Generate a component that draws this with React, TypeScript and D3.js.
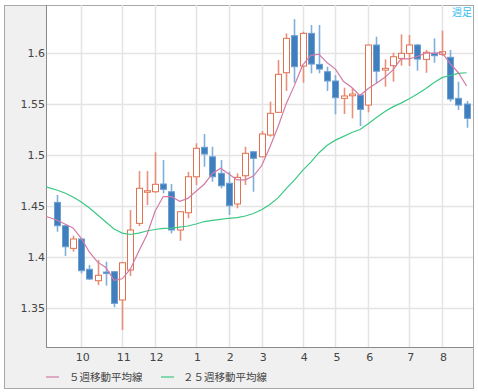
import React from 'react';
import * as d3 from 'd3';

// weekly candles (index 0..50)
const opens = [1.4531,1.4302,1.4080,1.4172,1.3875,1.3763,1.3848,1.3851,1.3574,1.3868,1.4325,1.4637,1.4635,1.4711,1.4635,1.4260,1.4429,1.4782,1.5071,1.4978,1.4816,1.4718,1.4515,1.4792,1.5027,1.4978,1.5191,1.5414,1.5802,1.6165,1.5868,1.6188,1.5884,1.5812,1.5721,1.5551,1.5576,1.5583,1.5485,1.6074,1.5828,1.5871,1.5943,1.5992,1.6074,1.5933,1.5992,1.5982,1.5953,1.5551,1.5495];
const highs = [1.4603,1.4309,1.4204,1.4180,1.3917,1.3966,1.3949,1.3858,1.3946,1.4456,1.4838,1.4838,1.5022,1.4946,1.4711,1.4446,1.4831,1.5110,1.5201,1.5076,1.4946,1.4831,1.4816,1.5076,1.5034,1.5230,1.5518,1.5926,1.6188,1.6328,1.6204,1.6270,1.6270,1.5861,1.5779,1.5655,1.5649,1.5590,1.6080,1.6155,1.5933,1.5998,1.6178,1.6172,1.6083,1.6025,1.6139,1.6214,1.6025,1.5714,1.5525];
const lows = [1.4243,1.4005,1.4047,1.3835,1.3770,1.3720,1.3714,1.3502,1.3279,1.3809,1.4299,1.4505,1.4625,1.4620,1.4227,1.4155,1.4375,1.4701,1.4880,1.4733,1.4669,1.4407,1.4473,1.4701,1.4635,1.4973,1.5175,1.5407,1.5623,1.5704,1.5704,1.5796,1.5796,1.5623,1.5394,1.5397,1.5355,1.5279,1.5414,1.5698,1.5665,1.5714,1.5871,1.5868,1.5822,1.5802,1.5900,1.5966,1.5518,1.5436,1.5263];
const closes = [1.4302,1.4096,1.4172,1.3861,1.3779,1.3816,1.3835,1.3541,1.3939,1.4260,1.4669,1.4645,1.4708,1.4659,1.4260,1.4439,1.4782,1.5061,1.5005,1.4782,1.4694,1.4498,1.4776,1.5012,1.4963,1.5201,1.5404,1.5786,1.6139,1.5861,1.6188,1.5887,1.5838,1.5721,1.5557,1.5574,1.5593,1.5443,1.6074,1.5817,1.5845,1.5959,1.5992,1.6074,1.5936,1.6002,1.5969,1.6008,1.5544,1.5485,1.5355];

// moving averages, starting at index -2
const maStart = -2;
const ma5 = [1.4410,1.4385,1.4358,1.4319,1.4280,1.4178,1.4042,1.3945,1.3893,1.3766,1.3782,1.3878,1.4049,1.4211,1.4444,1.4588,1.4588,1.4542,1.4570,1.4640,1.4709,1.4814,1.4865,1.4808,1.4751,1.4752,1.4789,1.4890,1.5071,1.5273,1.5499,1.5678,1.5876,1.5972,1.5983,1.5899,1.5838,1.5715,1.5657,1.5578,1.5648,1.5700,1.5754,1.5828,1.5937,1.5937,1.5961,1.5993,1.5995,1.5998,1.5892,1.5802,1.5672];
const ma25 = [1.4701,1.4676,1.4652,1.4623,1.4583,1.4534,1.4475,1.4407,1.4338,1.4270,1.4230,1.4216,1.4230,1.4250,1.4265,1.4276,1.4279,1.4289,1.4299,1.4319,1.4343,1.4355,1.4365,1.4375,1.4382,1.4397,1.4422,1.4458,1.4510,1.4575,1.4666,1.4749,1.4844,1.4926,1.5018,1.5090,1.5141,1.5178,1.5216,1.5245,1.5302,1.5364,1.5420,1.5467,1.5504,1.5547,1.5593,1.5646,1.5704,1.5754,1.5775,1.5796,1.5802];

const monthLabels = ['10','11','12','1','2','3','4','5','6','7','8'];
const monthTickIndex = [3,8,12,17,21,25,30,34,38,43,47];
const yTicks = [1.35,1.4,1.45,1.5,1.55,1.6];

const legendLabels = ['５週移動平均線','２５週移動平均線'];
const periodLabel = '週足';

export default function App() {
  const W = 478, H = 392;
  const left = 46, right = 473, top = 5, bottom = 347;
  const x = d3.scaleLinear().domain([-1.3, 50.78]).range([left, right]);
  const y = d3.scaleLinear().domain([1.3113, 1.6466]).range([bottom, top]);
  const bw = 6;

  const line = d3.line<number>()
    .x((_, i) => x(i + maStart))
    .y(d => y(d));

  const pink = '#d27aa6';
  const green = '#3cc884';
  const upStroke = '#e2714f';
  const upWick = '#e8907a';
  const dnFill = '#3f7fbe';
  const dnStroke = '#6c9fd2';
  const dnWick = '#7fb0dc';

  return (
    <svg width={W} height={H} style={{ position: 'absolute', left: 0, top: 0 }}>
      <defs>
        <clipPath id="plotclip">
          <rect x={left} y={top} width={right - left} height={bottom - top} />
        </clipPath>
      </defs>
      <rect x={0} y={0} width={W} height={H} fill="#ffffff" />
      <rect x={4.5} y={5.5} width={469} height={383} fill="#f0f0f0" stroke="#a8a8a8" />
      <rect x={left} y={top + 1} width={right - left} height={bottom - top - 1} fill="#ffffff" />
      {/* grid */}
      {yTicks.map(t => (
        <line key={'gy' + t} x1={left} x2={right} y1={Math.round(y(t)) + 0.5} y2={Math.round(y(t)) + 0.5} stroke="#e4e4e4" strokeWidth={1.5} />
      ))}
      {monthTickIndex.map((t, k) => (
        <line key={'gx' + k} x1={Math.round(x(t)) + 0.5} x2={Math.round(x(t)) + 0.5} y1={top} y2={bottom} stroke="#e4e4e4" strokeWidth={1.5} />
      ))}
      {/* axes lines */}
      <line x1={left + 0.5} x2={left + 0.5} y1={top} y2={bottom} stroke="#8a8a8a" />
      <line x1={left} x2={right} y1={bottom + 0.5} y2={bottom + 0.5} stroke="#8a8a8a" />
      <line x1={right + 0.5} x2={right + 0.5} y1={top} y2={388} stroke="#a8a8a8" />
      {/* y labels */}
      {yTicks.map(t => (
        <text key={'ly' + t} x={left - 1} y={y(t) + 4} textAnchor="end" fontFamily="DejaVu Sans" fontSize={11} fill="#444">{d3.format('')(t)}</text>
      ))}
      {/* x labels */}
      {monthTickIndex.map((t, k) => (
        <text key={'lx' + k} x={x(t) + 1.5} y={361} textAnchor="middle" fontFamily="DejaVu Sans" fontSize={11} fill="#444">{monthLabels[k]}</text>
      ))}
      <g clipPath="url(#plotclip)">
        {/* wicks */}
        {closes.map((c, i) => {
          const up = c >= opens[i];
          return (
            <line key={'w' + i} x1={Math.round(x(i)) + 0.5} x2={Math.round(x(i)) + 0.5} y1={y(highs[i])} y2={y(lows[i])} stroke={up ? upWick : dnWick} strokeWidth={1.6} />
          );
        })}
        {/* bodies */}
        {closes.map((c, i) => {
          const up = c >= opens[i];
          const yt = y(Math.max(c, opens[i]));
          const yb = y(Math.min(c, opens[i]));
          const h = Math.max(1.5, yb - yt);
          return (
            <rect key={'b' + i} x={Math.round(x(i)) - bw / 2 + 0.5} y={yt} width={bw} height={h}
              fill={up ? '#ffffff' : dnFill} stroke={up ? upStroke : dnStroke} strokeWidth={1} />
          );
        })}
        <path d={line(ma25) || ''} fill="none" stroke={green} strokeWidth={1.2} />
        <path d={line(ma5) || ''} fill="none" stroke={pink} strokeWidth={1.2} />
      </g>
      <text x={472} y={16} textAnchor="end" fontFamily="Noto Sans CJK JP" fontSize={10} fill="#33bbee">{periodLabel}</text>
      {/* legend */}
      <line x1={46} x2={59} y1={377} y2={377} stroke={pink} strokeWidth={1.2} />
      <text x={69} y={381} fontFamily="Noto Sans CJK JP" fontSize={10.5} fill="#444">{legendLabels[0]}</text>
      <line x1={161} x2={174} y1={377} y2={377} stroke={green} strokeWidth={1.2} />
      <text x={183} y={381} fontFamily="Noto Sans CJK JP" fontSize={10.5} fill="#444">{legendLabels[1]}</text>
    </svg>
  );
}
